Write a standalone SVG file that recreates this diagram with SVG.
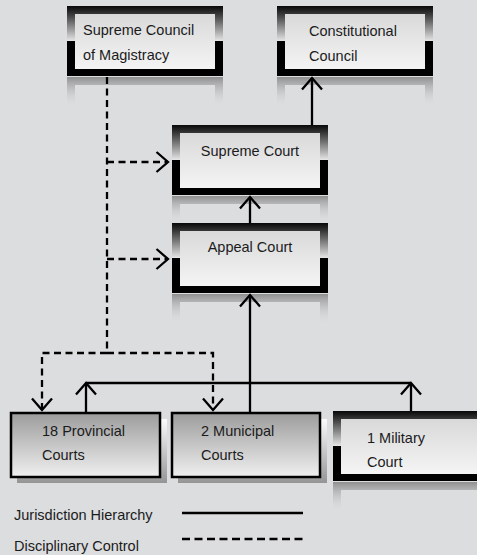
<svg xmlns="http://www.w3.org/2000/svg" width="477" height="555" viewBox="0 0 477 555">
<defs>
<linearGradient id="frameGrad" x1="0" y1="0" x2="0" y2="1">
<stop offset="0" stop-color="#080808"/>
<stop offset="0.12" stop-color="#3a3a3a"/>
<stop offset="0.5" stop-color="#e6e6e6"/>
<stop offset="0.505" stop-color="#000"/>
<stop offset="1" stop-color="#000"/>
</linearGradient>
<linearGradient id="innerGrad" x1="0" y1="0" x2="0" y2="1">
<stop offset="0" stop-color="#d9d9da"/>
<stop offset="1" stop-color="#f4f4f4"/>
</linearGradient>
<linearGradient id="reflGrad" x1="0" y1="0" x2="0" y2="1">
<stop offset="0" stop-color="#6e6e6e" stop-opacity="0.7"/>
<stop offset="1" stop-color="#dcdddf" stop-opacity="0"/>
</linearGradient>
<linearGradient id="courtGrad" x1="0" y1="0" x2="0" y2="1">
<stop offset="0" stop-color="#9c9c9d"/>
<stop offset="1" stop-color="#f0f0f0"/>
</linearGradient>
<linearGradient id="shadowGrad" x1="0" y1="0" x2="0" y2="1">
<stop offset="0" stop-color="#fbfbfb"/>
<stop offset="1" stop-color="#959595"/>
</linearGradient>
<marker id="arrow" markerUnits="userSpaceOnUse" markerWidth="30" markerHeight="30" viewBox="-15 -15 30 30" refX="0" refY="0" orient="auto">
<path d="M-11.5,-10 L0,0 L-11.5,10" fill="none" stroke="#000" stroke-width="2.3" stroke-linejoin="miter"/>
</marker>
<style>
.frame{fill:url(#frameGrad)}
.inner{fill:url(#innerGrad)}
.refl{fill:url(#reflGrad);fill-rule:evenodd}
.court{fill:url(#courtGrad);stroke:#000;stroke-width:2.5}
.shadow{fill:url(#shadowGrad)}
text{font-family:"Liberation Sans",Arial,sans-serif;font-size:14.5px;fill:#1b1b1b}
.mid{text-anchor:middle}
.solid{fill:none;stroke:#000;stroke-width:2.3}
.dash{fill:none;stroke:#000;stroke-width:2.3;stroke-dasharray:7 4.5}
</style>
</defs>
<rect width="477" height="555" fill="#dcdddf"/>

<g id="supreme-council">
<path class="refl" d="M67,77h156v30h-156z M75,85h140v22h-140z"/>
<rect class="frame" x="67" y="6" width="156" height="70"/>
<rect class="inner" x="75" y="14" width="140" height="55"/>
<text x="83" y="35">Supreme Council</text>
<text x="83" y="60">of Magistracy</text>
</g>

<g id="constitutional-council">
<path class="refl" d="M277,77h156v30h-156z M285,85h140v22h-140z"/>
<rect class="frame" x="277" y="6" width="156" height="70"/>
<rect class="inner" x="285" y="14" width="140" height="55"/>
<text x="309" y="36">Constitutional</text>
<text x="309" y="61">Council</text>
</g>

<g id="supreme-court">
<path class="refl" d="M172,196h156v27h-156z M180,204h140v19h-140z"/>
<rect class="frame" x="172" y="125" width="156" height="70"/>
<rect class="inner" x="180" y="133" width="140" height="55"/>
<text class="mid" x="250" y="156">Supreme Court</text>
</g>

<g id="appeal-court">
<path class="refl" d="M172,294h156v30h-156z M180,302h140v22h-140z"/>
<rect class="frame" x="172" y="223" width="156" height="70"/>
<rect class="inner" x="180" y="231" width="140" height="55"/>
<text class="mid" x="250" y="252">Appeal Court</text>
</g>

<g id="provincial-courts">
<rect class="shadow" x="17" y="419" width="150" height="64"/>
<rect class="court" x="11" y="413" width="149" height="64"/>
<text x="42" y="436">18 Provincial</text>
<text x="42" y="460">Courts</text>
</g>

<g id="municipal-courts">
<rect class="shadow" x="178" y="419" width="149" height="64"/>
<rect class="court" x="172" y="413" width="148" height="64"/>
<text x="201" y="436">2 Municipal</text>
<text x="201" y="460">Courts</text>
</g>

<g id="military-court">
<path class="refl" d="M333,482h156v30h-156z M341,490h140v22h-140z"/>
<rect class="frame" x="333" y="411" width="156" height="70"/>
<rect class="inner" x="341" y="419" width="140" height="55"/>
<text x="367" y="443">1 Military</text>
<text x="367" y="467">Court</text>
</g>

<g id="connectors">
<path class="solid" d="M312,125V78" marker-end="url(#arrow)"/>
<path class="solid" d="M250,223V197" marker-end="url(#arrow)"/>
<path class="solid" d="M250,413V295" marker-end="url(#arrow)"/>
<path class="solid" d="M86,383H411"/>
<path class="solid" d="M86,413V383" marker-end="url(#arrow)"/>
<path class="solid" d="M411,411V383" marker-end="url(#arrow)"/>
<path class="dash" d="M107,77V353"/>
<path class="dash" d="M107,353H42V410" marker-end="url(#arrow)"/>
<path class="dash" d="M107,353H213V410" marker-end="url(#arrow)"/>
<path class="dash" d="M107,162H168" marker-end="url(#arrow)"/>
<path class="dash" d="M107,259H168" marker-end="url(#arrow)"/>
</g>

<g id="legend">
<text x="14" y="520">Jurisdiction Hierarchy</text>
<text x="14" y="551">Disciplinary Control</text>
<path class="solid" d="M182,513H303"/>
<path class="dash" d="M182,539H303" style="stroke-dasharray:8 4.5"/>
</g>
</svg>
